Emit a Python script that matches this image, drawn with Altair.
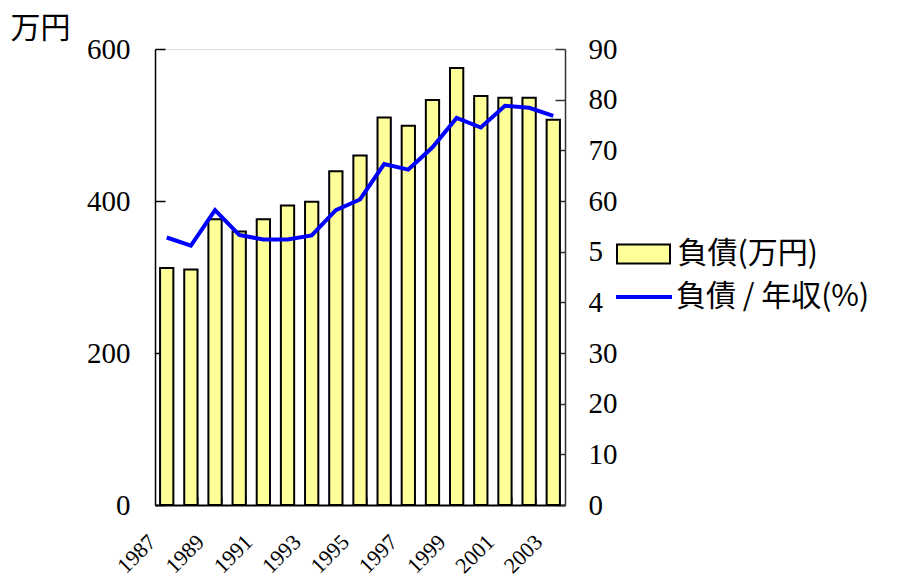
import altair as alt
import pandas as pd

years = list(range(1987, 2004))
debt = [312, 310, 376, 360, 376, 394, 399, 439, 460, 510, 499, 533, 575, 538, 536, 536, 507]
ratio = [52.8, 51.2, 58.2, 53.3, 52.4, 52.4, 53.2, 58.2, 60.3, 67.3, 66.2, 70.6, 76.4, 74.5, 78.8, 78.4, 76.8]

df = pd.DataFrame({
    "year": years,
    "debt": debt,
    "ratio": ratio,
    "s1": ["負債(万円)"] * len(years),
    "s2": ["負債 / 年収(%)"] * len(years),
})

SERIF = "Liberation Serif"
SANS = "Noto Sans CJK JP"

x = alt.X(
    "year:O",
    scale=alt.Scale(paddingInner=0.45, paddingOuter=0.21),
    axis=alt.Axis(
        title=None,
        labelAngle=315,
        labelAlign="right",
        labelBaseline="alphabetic",
        labelPadding=46,
        labelOffset=-10,
        labelFont=SERIF,
        labelFontSize=22,
        labelColor="black",
        labelExpr="datum.value % 2 == 1 ? datum.label : ''",
        tickBand="extent",
        tickSize=alt.ExprRef(expr="-8"),
        tickColor="#888888",
        tickWidth=1,
        domainColor="black",
        domainWidth=2,
        labelOverlap=False,
    ),
)

bars = alt.Chart(df).mark_bar(stroke="black", strokeWidth=2).encode(
    x=x,
    y=alt.Y(
        "debt:Q",
        scale=alt.Scale(domain=[0, 600]),
        axis=alt.Axis(
            values=[0, 200, 400, 600],
            title="万円",
            titleAngle=0,
            titleAlign="left",
            titleBaseline="alphabetic",
            titleX=-145,
            titleY=-12,
            titleFont=SANS,
            titleFontSize=30,
            titleFontWeight="normal",
            titleColor="black",
            labelFont=SERIF,
            labelFontSize=29,
            labelColor="black",
            labelPadding=35,
            tickSize=alt.ExprRef(expr="-10"),
            tickColor="black",
            tickWidth=1.5,
            domainColor="black",
            domainWidth=1.5,
            grid=False,
        ),
    ),
    fill=alt.Fill(
        "s1:N",
        scale=alt.Scale(range=["#FFFF99"]),
        legend=alt.Legend(
            title=None,
            orient="none",
            legendX=449,
            legendY=186,
            fillColor="white",
            padding=4,
            symbolType="M-2.65,-0.95L2.65,-0.95L2.65,0.95L-2.65,0.95Z",
            symbolSize=400,
            symbolOffset=20.5,
            symbolStrokeColor="black",
            symbolStrokeWidth=2,
            symbolFillColor="#FFFF99",
            labelFont=SANS,
            labelFontSize=30,
            labelColor="black",
            labelOffset=19,
            labelLimit=400,
        ),
    ),
)

line = alt.Chart(df).mark_line(strokeWidth=4).encode(
    x=x,
    y=alt.Y(
        "ratio:Q",
        scale=alt.Scale(domain=[0, 90]),
        axis=alt.Axis(
            orient="right",
            values=list(range(0, 100, 10)),
            title=None,
            labelFont=SERIF,
            labelFontSize=29,
            labelColor="black",
            labelPadding=33,
            tickSize=alt.ExprRef(expr="-10"),
            tickColor="#333333",
            tickWidth=1.5,
            domainColor="#333333",
            domainWidth=1.5,
            grid=False,
        ),
    ),
    stroke=alt.Stroke(
        "s2:N",
        scale=alt.Scale(range=["#0000FF"]),
        legend=alt.Legend(
            title=None,
            orient="none",
            legendX=449,
            legendY=229,
            fillColor="white",
            padding=4,
            symbolType="M-2.8,0L2.8,0",
            symbolSize=400,
            symbolOffset=21,
            symbolStrokeWidth=4,
            labelFont=SANS,
            labelFontSize=30,
            labelColor="black",
            labelOffset=17,
            labelLimit=400,
        ),
    ),
)

chart = alt.layer(bars, line).resolve_scale(
    y="independent", fill="independent", stroke="independent"
).properties(
    width=410,
    height=456,
    autosize=alt.AutoSizeParams(type="none"),
    padding={"left": 155, "top": 49, "right": 334, "bottom": 75},
).configure_view(
    stroke="#999999", strokeWidth=1.5
).configure(background="white")

chart.save("out.html", embed_options={"renderer": "svg", "actions": False})
